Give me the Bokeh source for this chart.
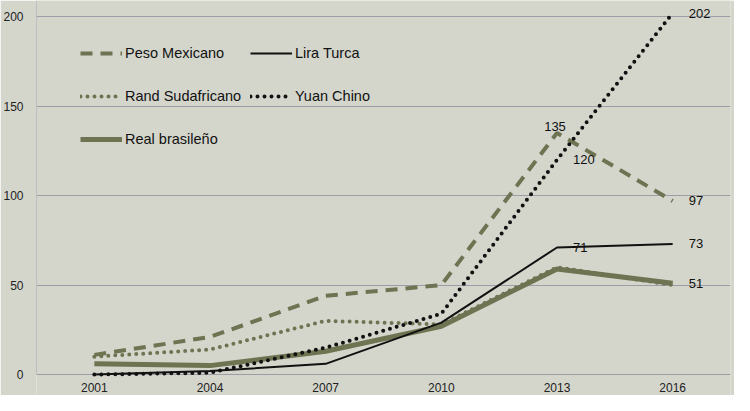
from bokeh.plotting import figure, ColumnDataSource
from bokeh.models import Range1d, FactorRange, Legend, LegendItem
from bokeh.core.properties import value
from bokeh.embed import file_html
from bokeh.resources import INLINE

years = ["2001", "2004", "2007", "2010", "2013", "2016"]
peso_mexicano = [11, 21, 44, 50, 135, 97]
lira_turca = [0, 2, 6, 29, 71, 73]
rand_sudafricano = [10, 14, 30, 28, 60, 50]
yuan_chino = [0, 1, 15, 34, 120, 202]
real_brasileno = [6, 5, 13, 27, 59, 51]

label_years = ["2016", "2016", "2016", "2016", "2013", "2013"]
label_values = [202, 97, 73, 51, 71, 120]
peak_year = ["2013"]
peak_value = [135]

color_fondo = '#d4d6cc'
color_grid = '#9a9ea6'
color_oliva = '#6e7352'
color_negro = '#111111'
fuente = "Liberation Sans"

y_top = 209
p = figure(x_range=FactorRange(*years, range_padding=0), y_range=Range1d(-11.7, y_top),
           width=734, height=395, output_backend="svg", toolbar_location=None,
           min_border_left=31, min_border_right=4, min_border_top=0, min_border_bottom=0)
p.background_fill_color = color_fondo
p.border_fill_color = color_fondo
p.outline_line_color = None
# ------------------------
p.xgrid.visible = False
p.xaxis.visible = False
p.ygrid.grid_line_color = color_grid
p.ygrid.grid_line_width = 1
p.yaxis.ticker = [0, 50, 100, 150, 200]
p.yaxis.axis_line_color = None
p.yaxis.major_tick_line_color = None
p.yaxis.minor_tick_line_color = None
p.yaxis.major_label_standoff = 7
p.yaxis.major_label_text_font = fuente
p.yaxis.major_label_text_font_size = '12px'
p.yaxis.major_label_text_color = '#222222'
# eje vertical solo desde 0 hacia arriba
p.segment(x0=[0], y0=[0], x1=[0], y1=[y_top], line_color=color_grid, line_width=1)
# etiquetas de años bajo la línea de 0
p.text(x=years, y=[0]*len(years), text=years, y_offset=13, text_align='center', text_baseline='middle',
       text_font=value(fuente), text_font_size='12px', text_color='#222222')
# ------------------------
src = ColumnDataSource(dict(year=years, peso=peso_mexicano, lira=lira_turca, rand=rand_sudafricano,
                            yuan=yuan_chino, real=real_brasileno))
r_real = p.line('year', 'real', source=src, line_width=5, color=color_oliva)
r_rand = p.line('year', 'rand', source=src, line_width=4, color=color_oliva, line_dash="0 7", line_cap='round')
r_peso = p.line('year', 'peso', source=src, line_width=4, color=color_oliva, line_dash="12 8")
r_lira = p.line('year', 'lira', source=src, line_width=2, color=color_negro)
r_yuan = p.line('year', 'yuan', source=src, line_width=4, color=color_negro, line_dash="0 7", line_cap='round')
# ------------------------
lab = ColumnDataSource(dict(x=label_years, y=label_values, t=[str(v) for v in label_values]))
p.text(x='x', y='y', text='t', source=lab, x_offset=16, text_baseline='middle', text_align='left',
       text_font=value(fuente), text_font_size='13px', text_color=color_negro)
pk = ColumnDataSource(dict(x=peak_year, y=peak_value, t=[str(v) for v in peak_value]))
p.text(x='x', y='y', text='t', source=pk, x_offset=-2, y_offset=-2, text_baseline='bottom', text_align='center',
       text_font=value(fuente), text_font_size='13px', text_color=color_negro)
# ------------------------
def leyenda(items, loc):
    lg = Legend(items=items, location=loc, padding=0, margin=0, spacing=23,
                glyph_width=42, glyph_height=20, label_height=20, label_standoff=3,
                label_text_font=fuente, label_text_font_size='14.5px', label_text_color=color_negro,
                background_fill_alpha=0, border_line_color=None)
    p.add_layout(lg, 'center')

leyenda([LegendItem(label='Peso Mexicano', renderers=[r_peso]),
         LegendItem(label='Rand Sudafricano', renderers=[r_rand]),
         LegendItem(label='Real brasileño', renderers=[r_real])], (44, 246))
leyenda([LegendItem(label='Lira Turca', renderers=[r_lira]),
         LegendItem(label='Yuan Chino', renderers=[r_yuan])], (214, 289))

open("out.html", "w").write(file_html(p, INLINE))
